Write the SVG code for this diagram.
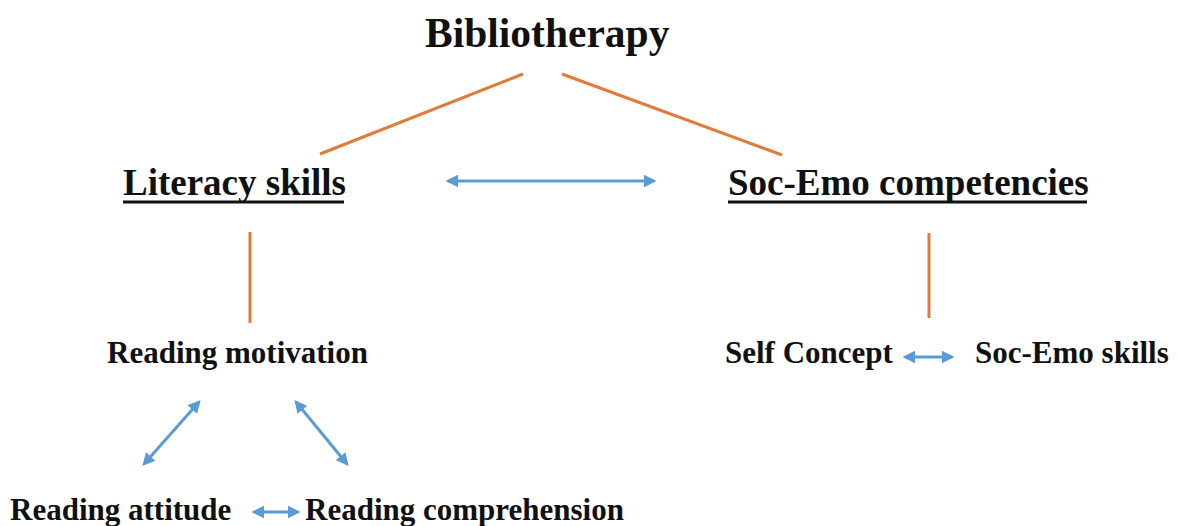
<svg xmlns="http://www.w3.org/2000/svg" width="1179" height="526" viewBox="0 0 1179 526">
<style>
  .t { font-family: "Liberation Serif", "Times New Roman", serif; font-weight: bold; fill: #111; }
  .h0 { font-size: 41.5px; }
  .h1 { font-size: 37px; }
  .h2 { font-size: 31px; }
  .ul { stroke: #111; stroke-width: 3; }
  .tree { stroke: #E07B39; stroke-width: 3; fill: none; }
  .rel { stroke: #5B9BD5; stroke-width: 3; fill: none; marker-start: url(#ah); marker-end: url(#ah); }
</style>
<defs>
  <marker id="ah" viewBox="0 0 10 10" refX="8" refY="5" markerWidth="4.6" markerHeight="4.2" orient="auto-start-reverse">
    <path d="M0,0 L10,5 L0,10 Z" fill="#5B9BD5"/>
  </marker>
</defs>
<rect width="1179" height="526" fill="#fff"/>
<g id="connectors">
  <line class="tree" x1="523" y1="74" x2="320" y2="154"/>
  <line class="tree" x1="562" y1="74" x2="782" y2="155"/>
  <line class="tree" x1="250" y1="232" x2="250" y2="323"/>
  <line class="tree" x1="929" y1="233" x2="929" y2="318"/>
  <line class="rel" x1="448" y1="181" x2="654" y2="181"/>
  <line class="rel" x1="199" y1="402" x2="144" y2="464"/>
  <line class="rel" x1="296" y1="402" x2="347" y2="464"/>
  <line class="rel" x1="905" y1="357" x2="952" y2="357"/>
  <line class="rel" x1="254" y1="512" x2="298" y2="512"/>
</g>
<g id="bibliotherapy">
  <text class="t h0" x="425" y="47">Bibliotherapy</text>
</g>
<g id="literacy-skills">
  <text class="t h1" x="123" y="195">Literacy skills</text>
  <line class="ul" x1="123" y1="202" x2="344" y2="202"/>
</g>
<g id="soc-emo-competencies">
  <text class="t h1" x="728" y="195">Soc-Emo competencies</text>
  <line class="ul" x1="728" y1="202" x2="1087" y2="202"/>
</g>
<g id="reading-motivation">
  <text class="t h2" x="107" y="363">Reading motivation</text>
</g>
<g id="self-concept">
  <text class="t h2" x="725" y="363">Self Concept</text>
</g>
<g id="soc-emo-skills">
  <text class="t h2" x="975" y="363">Soc-Emo skills</text>
</g>
<g id="reading-attitude">
  <text class="t h2" x="10" y="520">Reading attitude</text>
</g>
<g id="reading-comprehension">
  <text class="t h2" x="305" y="520">Reading comprehension</text>
</g>
</svg>
